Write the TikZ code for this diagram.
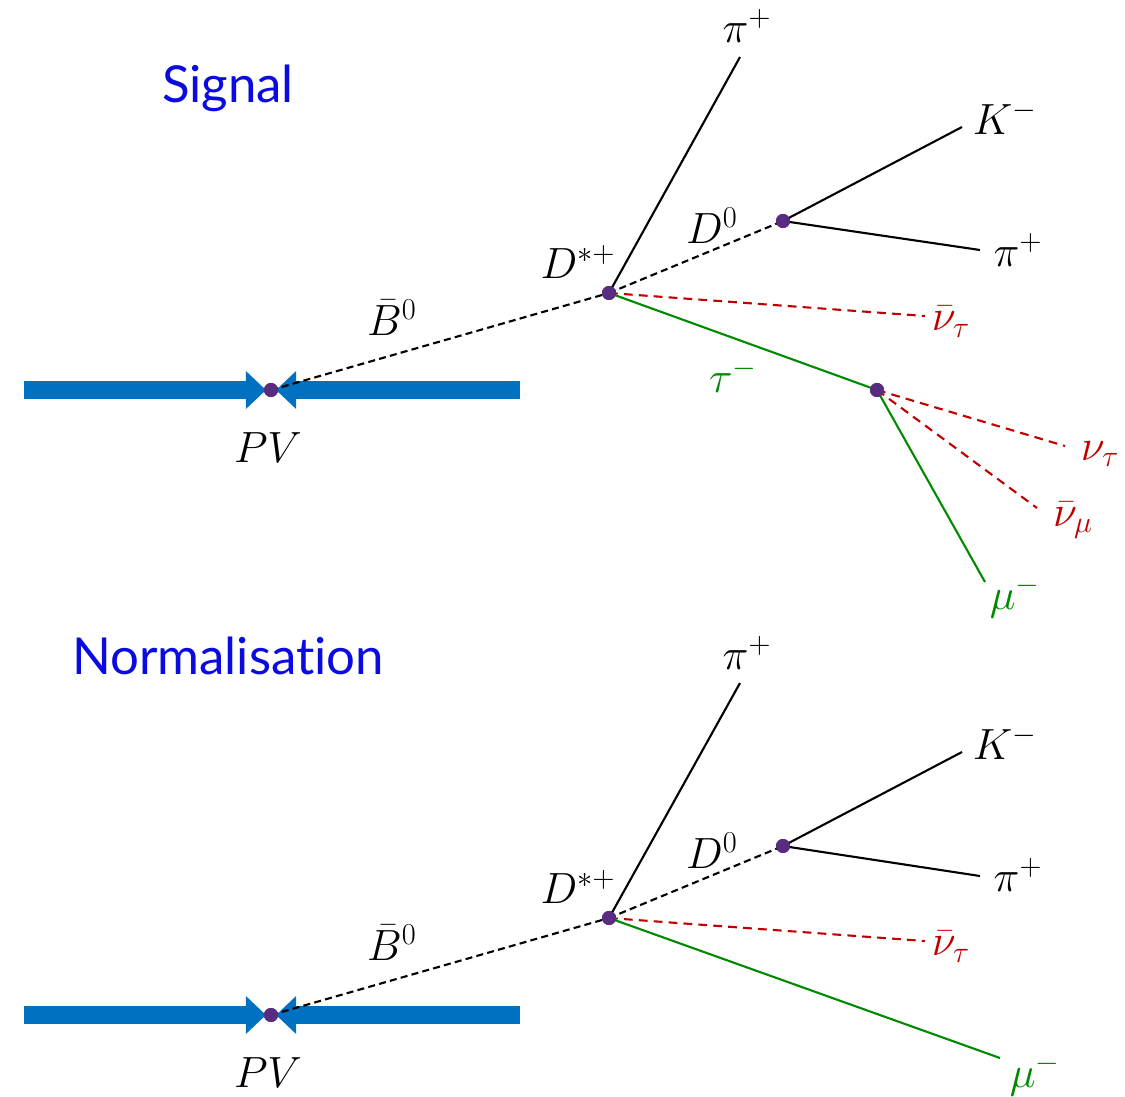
\documentclass[tikz,border=0pt]{standalone}
\usepackage{fontspec}
\setmainfont{Lato}[Ligatures=NoCommon]
\usetikzlibrary{arrows.meta}
\definecolor{beamblue}{RGB}{0,112,192}
\definecolor{vtx}{RGB}{88,44,128}
\definecolor{nured}{RGB}{192,0,0}
\definecolor{taugreen}{RGB}{0,138,0}
\definecolor{titleblue}{RGB}{10,10,225}
\begin{document}
\begin{tikzpicture}[x=0.02cm,y=-0.02cm,
  beam/.style={draw=beamblue,line width=10.2pt,-{Triangle[length=11.5pt,width=21pt,fill=beamblue]}},
  vertex/.style={circle,fill=vtx,inner sep=0pt,minimum size=8pt},
  lbl/.style={font=\fontsize{26}{30}\selectfont,inner sep=0pt},
  titletext/.style={font=\fontsize{29}{34}\selectfont,text=titleblue,inner sep=0pt},
  solidtrack/.style={line width=1.2pt,black},
  dashtrack/.style={line width=1.2pt,black,dash pattern=on 4pt off 2.4pt},
  nutrack/.style={line width=1.2pt,nured,dash pattern=on 5pt off 3.5pt},
  greentrack/.style={line width=1.2pt,taugreen}]
\useasboundingbox (0,0) rectangle (1125,1096);

% ---------------- Signal ----------------
\node[titletext] (sigtitle) at (228,88) {Signal};
\coordinate (sbl) at (24,390);
\coordinate (sbr) at (520,390);
\node[vertex] (spv) at (271,390) {};
\draw[beam] (sbl) -- (266,390);
\draw[beam] (sbr) -- (276,390);
\node[lbl] (spvl) at (268,448) {$PV$};
\node[vertex] (sdst) at (609,293) {};
\node[vertex] (sd0) at (783,221) {};
\node[vertex] (stau) at (877,390) {};
\coordinate (spis) at (740,57);
\coordinate (sk) at (962,127);
\coordinate (spi) at (980,250);
\coordinate (snub) at (925,316);
\coordinate (snut) at (1065,446);
\coordinate (snum) at (1037,508);
\coordinate (smu) at (985,582);
\draw[dashtrack] (spv.center) -- (sdst.center);
\draw[solidtrack] (sdst.center) -- (spis);
\draw[dashtrack] (sdst.center) -- (sd0.center);
\draw[solidtrack] (sd0.center) -- (sk);
\draw[solidtrack] (sd0.center) -- (spi);
\draw[nutrack] (sdst.center) -- (snub);
\draw[greentrack] (sdst.center) -- (stau.center);
\draw[nutrack] (stau.center) -- (snut);
\draw[nutrack] (stau.center) -- (snum);
\draw[greentrack] (stau.center) -- (smu);
\node[vertex] at (spv) {};
\node[vertex] at (sdst) {};
\node[vertex] at (sd0) {};
\node[vertex] at (stau) {};
\node[lbl] (sbl0) at (392,318) {$\bar{B}^0$};
\node[lbl] (sdstl) at (578,262) {$D^{*+}$};
\node[lbl] (sd0l) at (712,226) {$D^0$};
\node[lbl] (spisl) at (747,26) {$\pi^+$};
\node[lbl] (skl) at (1005,118) {$K^-$};
\node[lbl] (spil) at (1018,250) {$\pi^+$};
\node[lbl,text=nured] (snubl) at (951,322) {$\bar{\nu}_\tau$};
\node[lbl,text=taugreen] (staul) at (733,376) {$\tau^-$};
\node[lbl,text=nured] (snutl) at (1100,454) {$\nu_\tau$};
\node[lbl,text=nured] (snuml) at (1073,520) {$\bar{\nu}_\mu$};
\node[lbl,text=taugreen] (smul) at (1015,597) {$\mu^-$};

% ---------------- Normalisation ----------------
\node[titletext] (normtitle) at (228,656) {Normalisation};
\coordinate (nbl) at (24,1015);
\coordinate (nbr) at (520,1015);
\node[vertex] (npv) at (271,1015) {};
\draw[beam] (nbl) -- (266,1015);
\draw[beam] (nbr) -- (276,1015);
\node[lbl] (npvl) at (268,1073) {$PV$};
\node[vertex] (ndst) at (609,918) {};
\node[vertex] (nd0) at (783,846) {};
\coordinate (npis) at (740,683);
\coordinate (nk) at (962,752);
\coordinate (npi) at (980,876);
\coordinate (nnub) at (925,941);
\coordinate (nmu) at (1000,1058);
\draw[dashtrack] (npv.center) -- (ndst.center);
\draw[solidtrack] (ndst.center) -- (npis);
\draw[dashtrack] (ndst.center) -- (nd0.center);
\draw[solidtrack] (nd0.center) -- (nk);
\draw[solidtrack] (nd0.center) -- (npi);
\draw[nutrack] (ndst.center) -- (nnub);
\draw[greentrack] (ndst.center) -- (nmu);
\node[vertex] at (npv) {};
\node[vertex] at (ndst) {};
\node[vertex] at (nd0) {};
\node[lbl] (nbl0) at (392,943) {$\bar{B}^0$};
\node[lbl] (ndstl) at (578,887) {$D^{*+}$};
\node[lbl] (nd0l) at (712,851) {$D^0$};
\node[lbl] (npisl) at (747,653) {$\pi^+$};
\node[lbl] (nkl) at (1005,743) {$K^-$};
\node[lbl] (npil) at (1018,875) {$\pi^+$};
\node[lbl,text=nured] (nnubl) at (951,947) {$\bar{\nu}_\tau$};
\node[lbl,text=taugreen] (nmul) at (1035,1075) {$\mu^-$};
\end{tikzpicture}
\end{document}
